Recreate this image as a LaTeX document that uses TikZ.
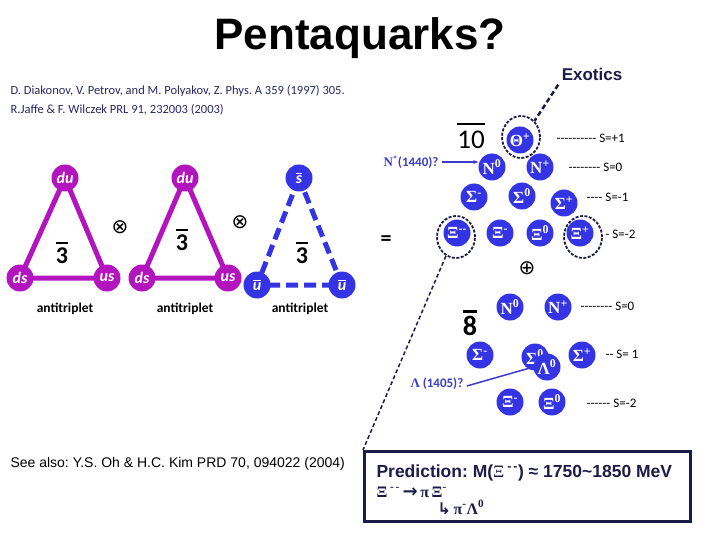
\documentclass[tikz,border=0pt]{standalone}
\usepackage{fontspec}
\setmainfont{Liberation Sans}
\newfontfamily\calib{Carlito}
\newfontfamily\tms{Liberation Serif}
\newfontfamily\dvs{DejaVu Sans}
\usetikzlibrary{arrows.meta,shapes.geometric,backgrounds}
\definecolor{mag}{RGB}{178,20,190}
\definecolor{pblue}{RGB}{52,52,228}
\definecolor{navy}{RGB}{28,28,72}
\definecolor{cite}{RGB}{40,40,100}
\definecolor{lblue}{RGB}{60,60,200}
\newcommand\obar[3]{\vbox{\hrule height #1\kern#2\hbox{#3}}}
\frenchspacing
\begin{document}
\begin{tikzpicture}[x=1pt,y=-1pt,
  qm/.style={circle,fill=mag,minimum size=27pt,inner sep=0pt,text=white,font=\calib\bfseries\itshape\fontsize{16}{16}\selectfont},
  qb/.style={qm,fill=pblue},
  pt/.style={circle,fill=pblue,minimum size=27pt,inner sep=0pt,text=white,font=\tms\bfseries\fontsize{17}{17}\selectfont},
  ring/.style={ellipse,draw=navy,dash pattern=on 3pt off 1.5pt,line width=1.8pt,minimum width=38pt,minimum height=42pt,inner sep=0pt},
  slab/.style={anchor=base west,font=\calib\fontsize{13}{13}\selectfont},
  trip/.style={anchor=base,font=\calib\bfseries\fontsize{13.5}{13.5}\selectfont},
  three/.style={anchor=base,font=\calib\bfseries\fontsize{24}{24}\selectfont},
  magline/.style={mag,line width=5pt},
  bluline/.style={pblue,line width=5pt,dash pattern=on 12pt off 6pt},
  symb/.style={font=\dvs\fontsize{20}{20}\selectfont},
  citetext/.style={anchor=base west,text=cite,font=\calib\fontsize{12.5}{12.5}\selectfont},
  qlabel/.style={anchor=base west,text=lblue,font=\calib\bfseries\fontsize{13}{13}\selectfont},
  boxtext/.style={anchor=base west,text=navy}
]
\useasboundingbox (0,0) rectangle (720,540);

% title and headers
\node[anchor=base,font=\bfseries\fontsize{44}{44}\selectfont] (title) at (360,50) {Pentaquarks?};
\node[anchor=base,text=navy,font=\bfseries\fontsize{17}{17}\selectfont] (exo) at (592,81) {Exotics};
\node[citetext] (c1) at (7,95) {D. Diakonov, V. Petrov, and M. Polyakov, Z. Phys. A 359 (1997) 305.};
\node[citetext] (c2) at (7,114) {R.Jaffe \& F. Wilczek PRL 91, 232003 (2003)};

% triangle 1
\node[qm] (du1) at (65,178) {du};
\node[qm] (ds1) at (20,278) {ds};
\node[qm] (us1) at (107,278) {us};
\node[three] (t1) at (62,263) {\obar{2pt}{3pt}{3}};
\node[trip] (a1) at (65,312) {antitriplet};
% triangle 2
\node[qm] (du2) at (185,178) {du};
\node[qm] (ds2) at (142,278) {ds};
\node[qm] (us2) at (228,278) {us};
\node[three] (t2) at (182,250) {\obar{2pt}{3pt}{3}};
\node[trip] (a2) at (185,312) {antitriplet};
% triangle 3
\node[qb] (sb) at (299,178) {\obar{1.2pt}{1.5pt}{s}};
\node[qb] (ub1) at (257,285) {\obar{1.2pt}{1.5pt}{u}};
\node[qb] (ub2) at (342,285) {\obar{1.2pt}{1.5pt}{u}};
\node[three] (t3) at (302,263) {\obar{2pt}{3pt}{3}};
\node[trip] (a3) at (300,312) {antitriplet};

\node[symb] (ot1) at (120,227) {⊗};
\node[symb] (ot2) at (240,222) {⊗};

\begin{scope}[on background layer]
  \draw[magline] (du1.center) -- (ds1.center) -- (us1.center) -- cycle;
  \draw[magline] (du2.center) -- (ds2.center) -- (us2.center) -- cycle;
  \draw[bluline] (sb.center) -- (ub1.center) -- (ub2.center) -- cycle;
\end{scope}

\node[anchor=base,font=\calib\bfseries\fontsize{22}{22}\selectfont] (eq) at (386,245) {=};

% antidecuplet
\node[anchor=base,font=\calib\fontsize{27}{27}\selectfont] (ten) at (471,149) {\obar{2pt}{6pt}{10}};
\node[pt] (th) at (520,140) {Θ\textsuperscript{+}};
\node[ring] (thr) at (521,137) {};
\node[pt] (n0) at (492,167) {N\textsuperscript{0}};
\node[pt] (np) at (540,167) {N\textsuperscript{+}};
\node[pt] (sm) at (474,197) {Σ\textsuperscript{-}};
\node[pt] (s0) at (522,196) {Σ\textsuperscript{0}};
\node[pt] (sp) at (564,203) {Σ\textsuperscript{+}};
\node[pt] (xmm) at (457,233) {Ξ\textsuperscript{--}};
\node[ring] (xmmr) at (456,237) {};
\node[pt] (xm) at (500,233) {Ξ\textsuperscript{-}};
\node[pt] (x0) at (540,233) {Ξ\textsuperscript{0}};
\node[pt] (xp) at (580,233) {Ξ\textsuperscript{+}};
\node[ring] (xpr) at (583,237) {};

\node[slab] (s1) at (553,143) {---------- S=+1};
\node[slab] (s2) at (565,172) {-------- S=0};
\node[slab] (s3) at (583,202) {---- S=-1};
\node[slab] (s4) at (602,239) {- S=-2};

\node[qlabel] (nstar) at (380,167) {{\tms N}\textsuperscript{*}(1440)?};
\draw[lblue,line width=1.5pt,-{Stealth[length=5pt,width=4pt]}] (nstar.east |- 0,162) -- (n0.west |- 0,162);

\draw[navy,line width=2.5pt,dash pattern=on 5pt off 3pt] (exo.south west) -- (thr.50);

\node[symb] (op) at (527,268) {⊕};

% antioctet
\node[anchor=base,font=\calib\bfseries\fontsize{28}{28}\selectfont] (eight) at (470,335) {\obar{2.5pt}{3pt}{8}};
\node[pt] (on0) at (510,307) {N\textsuperscript{0}};
\node[pt] (onp) at (558,307) {N\textsuperscript{+}};
\node[pt] (osm) at (480,355) {Σ\textsuperscript{-}};
\node[pt] (os0) at (535,357) {Σ\textsuperscript{0}};
\node[pt] (ol0) at (547,367) {Λ\textsuperscript{0}};
\node[pt] (osp) at (582,355) {Σ\textsuperscript{+}};
\node[pt] (oxm) at (510,402) {Ξ\textsuperscript{-}};
\node[pt] (ox0) at (552,402) {Ξ\textsuperscript{0}};

\node[slab] (s5) at (577,310) {-------- S=0};
\node[slab] (s6) at (602,358) {-- S= 1};
\node[slab] (s7) at (583,407) {------ S=-2};

\node[qlabel] (lam) at (407,387) {{\tms Λ} (1405)?};
\draw[lblue,line width=1.5pt] (lam.east |- 0,386) -- (ol0.west);

% prediction box
\node[draw=navy,line width=3pt,minimum width=326pt,minimum height=70pt,inner sep=0pt] (box) at (527.5,486.5) {};
\draw[navy,line width=1.5pt,dash pattern=on 4pt off 2.5pt] (xmmr.-118) -- (box.north west);

\node[boxtext,font=\bfseries\fontsize{17.5}{17.5}\selectfont] (p1) at (373,477) {Prediction: M({\tms\mdseries Ξ}\,\textsuperscript{-\,-}) ≈ 1750\textasciitilde 1850 MeV};
\node[boxtext,font=\tms\bfseries\fontsize{16}{16}\selectfont] (p2) at (373,497) {Ξ\,\textsuperscript{-\,-}\,{\dvs\bfseries\fontsize{18}{18}\selectfont →}\,π\,Ξ\textsuperscript{-}};
\node[boxtext,font=\tms\bfseries\fontsize{16}{16}\selectfont] (p3) at (434,514) {{\dvs\bfseries ↳}\,π\textsuperscript{-}Λ\textsuperscript{0}};

\node[anchor=base west,font=\fontsize{14}{14}\selectfont] (see) at (7,467) {See also: Y.S. Oh \& H.C. Kim PRD 70, 094022 (2004)};
\end{tikzpicture}
\end{document}
